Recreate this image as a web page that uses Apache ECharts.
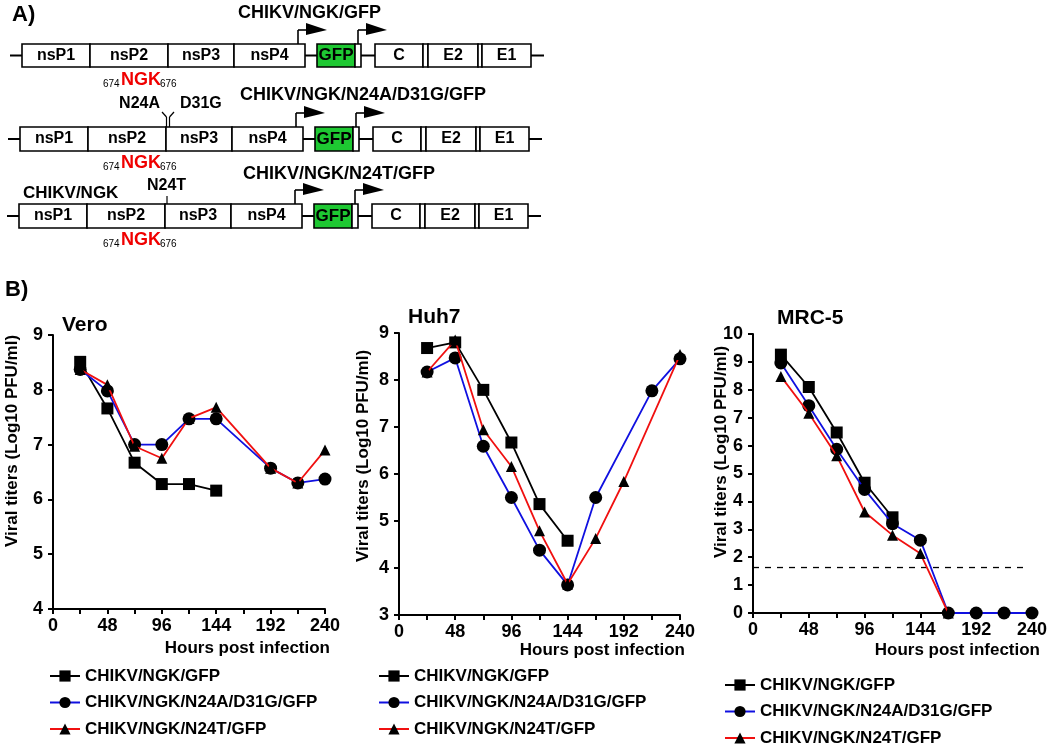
<!DOCTYPE html>
<html><head><meta charset="utf-8">
<script src="https://cdn.jsdelivr.net/npm/echarts@6/dist/echarts.min.js"></script>
<style>html,body{margin:0;padding:0;background:#fff}#c{width:1050px;height:747px}</style>
</head><body><div id="c"></div>
<script>
// ---------------- data ----------------
const hours = [24, 48, 72, 96, 120, 144, 168, 192, 216, 240];
const seriesNames = ['CHIKV/NGK/GFP', 'CHIKV/NGK/N24A/D31G/GFP', 'CHIKV/NGK/N24T/GFP'];
const panelTitles = ['Vero', 'Huh7', 'MRC-5'];
const xTickLabels = [0, 48, 96, 144, 192, 240];

const veroNGK      = [8.51, 7.66, 6.67, 6.28, 6.28, 6.16, null, null, null, null];
const veroN24AD31G = [8.37, 7.98, 7.00, 7.00, 7.47, 7.47, null, 6.57, 6.30, 6.37];
const veroN24T     = [8.37, 8.09, 6.97, 6.75, 7.48, 7.68, null, 6.57, 6.30, 6.90];

const huh7NGK      = [8.68, 8.80, 7.79, 6.67, 5.36, 4.58, null, null, null, null];
const huh7N24AD31G = [8.17, 8.47, 6.59, 5.50, 4.38, 3.64, 5.50, null, 7.77, 8.45];
const huh7N24T     = [8.17, 8.85, 6.94, 6.16, 4.79, 3.66, 4.63, 5.84, null, 8.54];

const mrcNGK       = [9.26, 8.10, 6.47, 4.67, 3.43, null, null, null, null, null];
const mrcN24AD31G  = [8.96, 7.43, 5.87, 4.43, 3.20, 2.61, 0, 0, 0, 0];
const mrcN24T      = [8.48, 7.16, 5.64, 3.62, 2.79, 2.13, 0, null, null, null];

const detectionLimit = 1.63;
const detectionSpan = [0, 234];

const yRanges = [[4, 9], [3, 9], [0, 10]];

// --------------- layout / style ---------------
const FONT = '"Liberation Sans", Arial, sans-serif';
const grids = [
  {left: 53, top: 335, width: 272, height: 274},
  {left: 399, top: 333, width: 281, height: 282},
  {left: 753, top: 334, width: 279, height: 279}
];
const lineColors = ['#000000', '#1010e0', '#f01010'];
const symbols = ['rect', 'circle', 'triangle'];
const symbolSizes = [12, 13, 11];

const panelData = [
  [veroNGK, veroN24AD31G, veroN24T],
  [huh7NGK, huh7N24AD31G, huh7N24T],
  [mrcNGK, mrcN24AD31G, mrcN24T]
];

const series = [];
panelData.forEach((arrs, p) => {
  arrs.forEach((arr, s) => {
    series.push({
      type: 'line', name: seriesNames[s], xAxisIndex: p, yAxisIndex: p,
      data: hours.map((h, i) => [h, arr[i]]).filter(d => d[1] !== null),
      symbol: symbols[s], symbolSize: symbolSizes[s],
      itemStyle: {color: '#000'},
      lineStyle: {color: lineColors[s], width: 1.8},
      emphasis: {disabled: true}, animation: false, z: 2 + s
    });
  });
});
series.push({
  type: 'line', name: 'limit', xAxisIndex: 2, yAxisIndex: 2,
  data: detectionSpan.map(x => [x, detectionLimit]),
  symbol: 'none', lineStyle: {color: '#000', width: 1.3, type: [6, 6]},
  animation: false, z: 1
});

const axisBase = {
  axisLine: {show: true, onZero: false, lineStyle: {color: '#000', width: 2}},
  axisTick: {show: true, inside: false, length: 5, lineStyle: {color: '#000', width: 2}},
  splitLine: {show: false},
  axisLabel: {color: '#000', fontFamily: FONT, fontWeight: 'bold', fontSize: 18}
};

const xAxes = grids.map((g, i) => Object.assign({}, JSON.parse(JSON.stringify(axisBase)), {
  type: 'value', gridIndex: i, min: 0, max: 240, interval: 24,
  axisLabel: Object.assign({}, axisBase.axisLabel, {
    margin: 8, showMinLabel: true, showMaxLabel: true,
    formatter: v => xTickLabels.indexOf(v) >= 0 ? String(v) : ''
  })
}));
const yAxes = grids.map((g, i) => Object.assign({}, JSON.parse(JSON.stringify(axisBase)), {
  type: 'value', gridIndex: i, min: yRanges[i][0], max: yRanges[i][1], interval: 1,
  axisLabel: Object.assign({}, axisBase.axisLabel, {margin: 10})
}));

// -------- legends --------
const legendPos = [{left: 44, top: 662}, {left: 373, top: 662}, {left: 719, top: 671}];
const legends = legendPos.map(p => ({
  left: p.left, top: p.top, height: 120, orient: 'vertical', itemWidth: 30, itemHeight: 14, itemGap: 8.5,
  selectedMode: false, data: seriesNames,
  textStyle: {color: '#000', fontFamily: FONT, fontWeight: 'bold', fontSize: 17, lineHeight: 18}
}));

// -------- graphics (diagram A and panel texts) --------
const G = [];
function txt(x, y, text, size, opts) {
  opts = opts || {};
  G.push({type: 'text', x: x, y: y, rotation: opts.rot || 0, z: 10,
    style: {text: text, fill: opts.fill || '#000',
      font: (opts.weight || 'bold') + ' ' + size + 'px ' + FONT,
      align: opts.align || 'left', textAlign: opts.align || 'left',
      verticalAlign: 'middle', textVerticalAlign: 'middle'}});
}
function ln(x1, y1, x2, y2, w) {
  G.push({type: 'line', z: 10, shape: {x1, y1, x2, y2}, style: {stroke: '#000', lineWidth: w || 2}});
}
function box(x0, x1, y, h, fill) {
  G.push({type: 'rect', z: 10, shape: {x: x0, y: y, width: x1 - x0, height: h},
    style: {fill: fill || '#fff', stroke: '#000', lineWidth: 1.6}});
}
function arrow(x, yTop, dy) {
  const yh = yTop - dy;
  ln(x, yTop, x, yh, 1.6);
  ln(x, yh, x + 9, yh, 1.6);
  G.push({type: 'polygon', z: 10, shape: {points: [[x + 8, yh - 7], [x + 29, yh], [x + 8, yh + 5]]},
    style: {fill: '#000'}});
}

const genomeParts = [
  {t: 'nsP1', a: 22, b: 90}, {t: 'nsP2', a: 90, b: 168}, {t: 'nsP3', a: 168, b: 234},
  {t: 'nsP4', a: 234, b: 305}, {t: 'GFP', a: 317, b: 355, fill: '#1ec832'}, {t: '', a: 355, b: 361},
  {t: 'C', a: 375, b: 423}, {t: '', a: 423, b: 428}, {t: 'E2', a: 428, b: 478},
  {t: '', a: 478, b: 482}, {t: 'E1', a: 482, b: 531}
];
const genomeLinks = [[10, 22], [305, 317], [361, 375], [531, 544]];
const rows = [
  {top: 44, h: 23, dx: 0, name: 'CHIKV/NGK/GFP', nx: 238, ny: 13, ngkY: 80},
  {top: 127, h: 24, dx: -2, name: 'CHIKV/NGK/N24A/D31G/GFP', nx: 240, ny: 95, ngkY: 163},
  {top: 204, h: 24, dx: -3, name: 'CHIKV/NGK/N24T/GFP', nx: 243, ny: 174, ngkY: 240}
];
rows.forEach(r => {
  const cy = r.top + r.h / 2;
  genomeLinks.forEach(l => ln(l[0] + r.dx, cy, l[1] + r.dx, cy, 2));
  genomeParts.forEach(p => {
    box(p.a + r.dx, p.b + r.dx, r.top, r.h, p.fill);
    if (p.t) txt((p.a + p.b) / 2 + r.dx, cy, p.t, p.t === 'GFP' ? 17 : 16, {align: 'center'});
  });
  arrow(298 + r.dx, r.top, 14);
  arrow(358 + r.dx, r.top, 14);
  txt(r.nx, r.ny, r.name, 18);
  txt(103, r.ngkY + 4, '674', 10, {weight: 'normal'});
  txt(121, r.ngkY, 'NGK', 18, {fill: '#f00000'});
  txt(160, r.ngkY + 4, '676', 10, {weight: 'normal'});
});
// mutation marks
txt(160, 104, 'N24A', 16, {align: 'right'});
txt(180, 104, 'D31G', 16);
ln(166.5, 127, 166.5, 117, 1.2); ln(169.5, 127, 169.5, 117, 1.2);
ln(166.5, 117, 162, 112, 1.2); ln(169.5, 117, 174, 112, 1.2);
txt(23, 193, 'CHIKV/NGK', 17);
txt(147, 186, 'N24T', 16);
ln(167, 196, 167, 204, 1.2);
txt(12, 15, 'A)', 22);
txt(5, 290, 'B)', 22);

// panel texts
const titlePos = [[62, 325], [408, 317], [777, 318]];
titlePos.forEach((p, i) => txt(p[0], p[1], panelTitles[i], 21));
const yNamePos = [[12, 441], [363, 456], [721, 452]];
yNamePos.forEach(p => txt(p[0], p[1], 'Viral titers (Log10 PFU/ml)', 17, {align: 'center', rot: Math.PI / 2}));
const xNamePos = [[330, 648], [685, 650], [1040, 650]];
xNamePos.forEach(p => txt(p[0], p[1], 'Hours post infection', 17, {align: 'right'}));

const chart = echarts.init(document.getElementById('c'), null, {renderer: 'canvas'});
chart.setOption({
  backgroundColor: '#fff',
  animation: false,
  grid: grids,
  xAxis: xAxes,
  yAxis: yAxes,
  legend: legends,
  series: series,
  graphic: {elements: G}
});
</script></body></html>
